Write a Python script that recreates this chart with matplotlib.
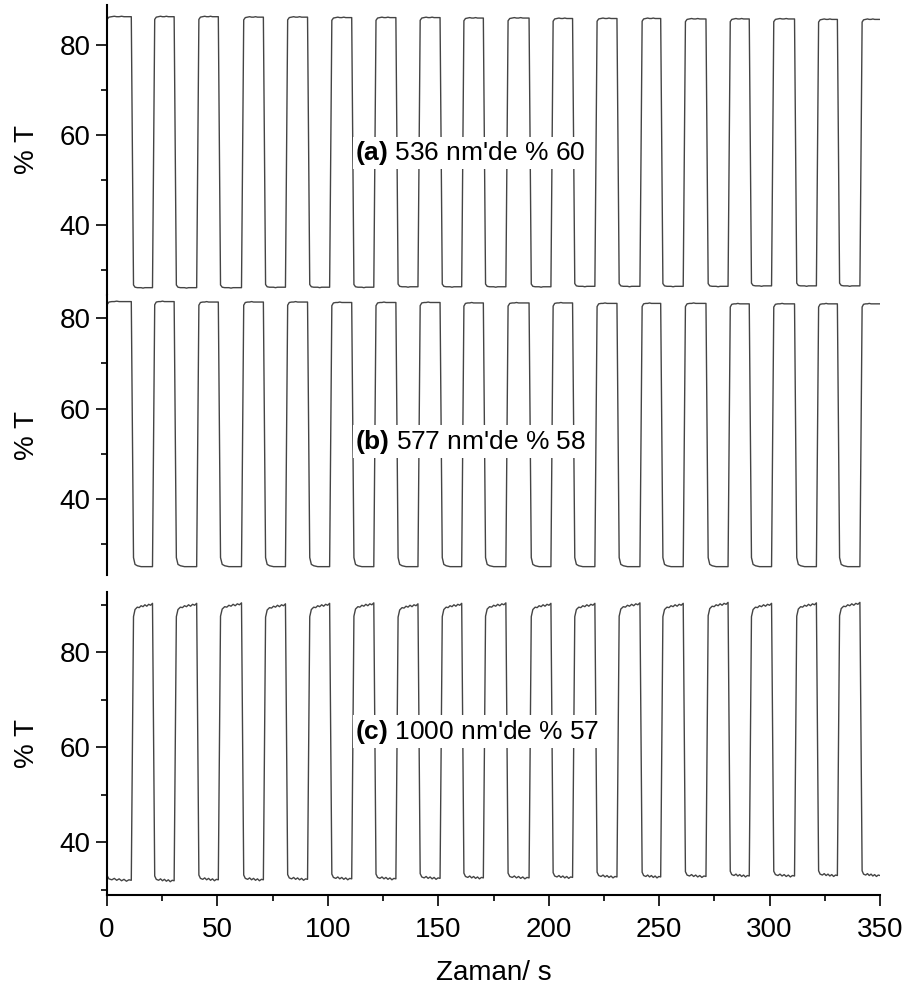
import numpy as np
import matplotlib.pyplot as plt
from matplotlib.ticker import MultipleLocator

plt.rcParams['font.family'] = ['Liberation Sans', 'DejaVu Sans']
plt.rcParams['mathtext.fontset'] = 'custom'
plt.rcParams['mathtext.rm'] = 'Liberation Sans'
plt.rcParams['mathtext.bf'] = 'Liberation Sans:bold'

# switching times (s)
# switch_1: end of the first kind of plateau, switch_2: end of the second kind
switch_1 = [11.0, 30.4, 50.4, 70.8, 90.8, 110.8, 130.8, 150.8, 170.4, 191.1,
            210.8, 230.9, 250.7, 271.2, 290.8, 311.3, 330.7]
switch_2 = [20.6, 40.6, 60.9, 80.8, 100.8, 120.8, 140.8, 160.6, 180.6, 201.0,
            220.9, 241.3, 260.9, 281.2, 300.9, 321.2, 340.9]
t_end = 350.0

# plateau levels (% T)
a_high = [86.3, 86.3, 86.3, 86.2, 86.2, 86.1, 86.1, 86.1, 86.0, 86.0,
          85.9, 85.9, 85.9, 85.8, 85.8, 85.8, 85.7, 85.7]
a_low = [26.1, 26.1, 26.1, 26.2, 26.2, 26.2, 26.3, 26.3, 26.3, 26.3,
         26.4, 26.4, 26.4, 26.4, 26.5, 26.5, 26.5]
b_high = [83.7, 83.7, 83.6, 83.6, 83.6, 83.5, 83.5, 83.5, 83.4, 83.4,
          83.4, 83.3, 83.3, 83.3, 83.2, 83.2, 83.2, 83.2]
b_low = [25.0, 25.0, 25.0, 25.0, 25.0, 25.0, 25.0, 25.0, 25.0, 25.0,
         25.0, 25.0, 25.0, 25.0, 25.0, 25.0, 25.0]
c_low = [32.1, 32.0, 32.2, 32.2, 32.3, 32.4, 32.4, 32.5, 32.6, 32.6,
         32.7, 32.8, 32.8, 32.9, 33.0, 33.0, 33.1, 33.1]
c_high = [90.0, 90.0, 90.1, 89.9, 90.0, 90.1, 89.9, 90.0, 90.1, 90.0,
          90.0, 90.1, 90.0, 90.2, 90.0, 90.1, 90.2]

# shape of a plateau (offsets from its level at fractions of its length)
shape_frac = [0.0, 0.08, 0.2, 0.3, 0.4, 0.5, 0.6, 0.7, 0.8, 0.9, 1.0]
a_high_shape = [-0.6, -0.1, 0.0, 0.1, 0.0, 0.0, 0.1, 0.0, 0.0, 0.0, 0.0]
a_low_shape = [0.6, 0.1, 0.0, 0.0, 0.0, -0.1, 0.0, 0.0, 0.0, 0.0, 0.0]
b_high_shape = [-0.7, -0.1, 0.0, 0.0, 0.1, 0.0, 0.0, 0.0, 0.0, 0.0, 0.0]
b_low_shape = [2.0, 0.5, 0.2, 0.1, 0.0, 0.0, 0.0, 0.0, 0.0, 0.0, 0.0]
c_low_shape = [0.9, 0.2, 0.0, 0.3, -0.1, 0.2, -0.2, 0.1, -0.3, 0.0, -0.1]
c_high_shape = [-2.5, -1.0, -0.5, -0.6, -0.2, -0.4, 0.0, -0.3, 0.1, -0.1, 0.3]

labels = ["(a)", "(b)", "(c)"]
texts = [" 536 nm'de % 60", " 577 nm'de % 58", " 1000 nm'de % 57"]


def build_trace(lev1, lev2, shape1, shape2, dur=1.0):
    t, y = [], []
    starts1 = [0.0] + [s + dur for s in switch_2]
    ends1 = switch_1 + [t_end]
    for i in range(len(lev1)):
        for f, o in zip(shape_frac, shape1):
            t.append(starts1[i] + f * (ends1[i] - starts1[i]))
            y.append(lev1[i] + o)
        if i < len(lev2):
            s0, s1 = switch_1[i] + dur, switch_2[i]
            for f, o in zip(shape_frac, shape2):
                t.append(s0 + f * (s1 - s0))
                y.append(lev2[i] + o)
    return np.array(t), np.array(y)


fig = plt.figure(figsize=(9.06, 9.91), dpi=100)
W, H = 906.0, 991.0
left, width = 107 / W, 773 / W
# (top px, bottom px, ylim)
panels = [
    (5, 295, (24.47, 88.9)),
    (295, 575, (23.15, 85.16)),
    (592, 895, (28.9, 92.69)),
]
traces = [
    build_trace(a_high, a_low, a_high_shape, a_low_shape),
    build_trace(b_high, b_low, b_high_shape, b_low_shape),
    build_trace(c_low, c_high, c_low_shape, c_high_shape),
]
text_y = [56.1, 52.7, 63.3]

for k, ((top, bot, ylim), (tt, yy)) in enumerate(zip(panels, traces)):
    ax = fig.add_axes([left, 1 - bot / H, width, (bot - top) / H])
    ax.plot(tt, yy, color='#444444', lw=1.0, zorder=2)
    ax.set_xlim(0, 350)
    ax.set_ylim(*ylim)
    for s in ['top', 'right']:
        ax.spines[s].set_visible(False)
    ax.spines['left'].set_linewidth(1.5)
    ax.spines['bottom'].set_linewidth(1.5)
    ax.yaxis.set_major_locator(MultipleLocator(20))
    ax.yaxis.set_minor_locator(MultipleLocator(10))
    ax.xaxis.set_major_locator(MultipleLocator(50))
    ax.xaxis.set_minor_locator(MultipleLocator(25))
    ax.tick_params(which='major', direction='out', length=8, width=1.2,
                   labelsize=20, pad=4)
    ax.tick_params(which='minor', direction='out', length=4.5, width=1.2)
    ax.set_ylabel('% T', fontsize=20, labelpad=14)
    if k < 2:
        ax.spines['bottom'].set_visible(False)
        ax.tick_params(axis='x', which='both', bottom=False, labelbottom=False)
    else:
        ax.tick_params(axis='x', which='major', pad=8)
        ax.set_xlabel('Zaman/ s', fontsize=20, labelpad=12)
    ax.text(112.3, text_y[k], r"$\mathbf{" + labels[k] + "}$" + texts[k],
            fontsize=19, va='center', ha='left', zorder=3,
            bbox=dict(facecolor='white', edgecolor='none', pad=1.5))

fig.savefig('out.png', dpi=100)
